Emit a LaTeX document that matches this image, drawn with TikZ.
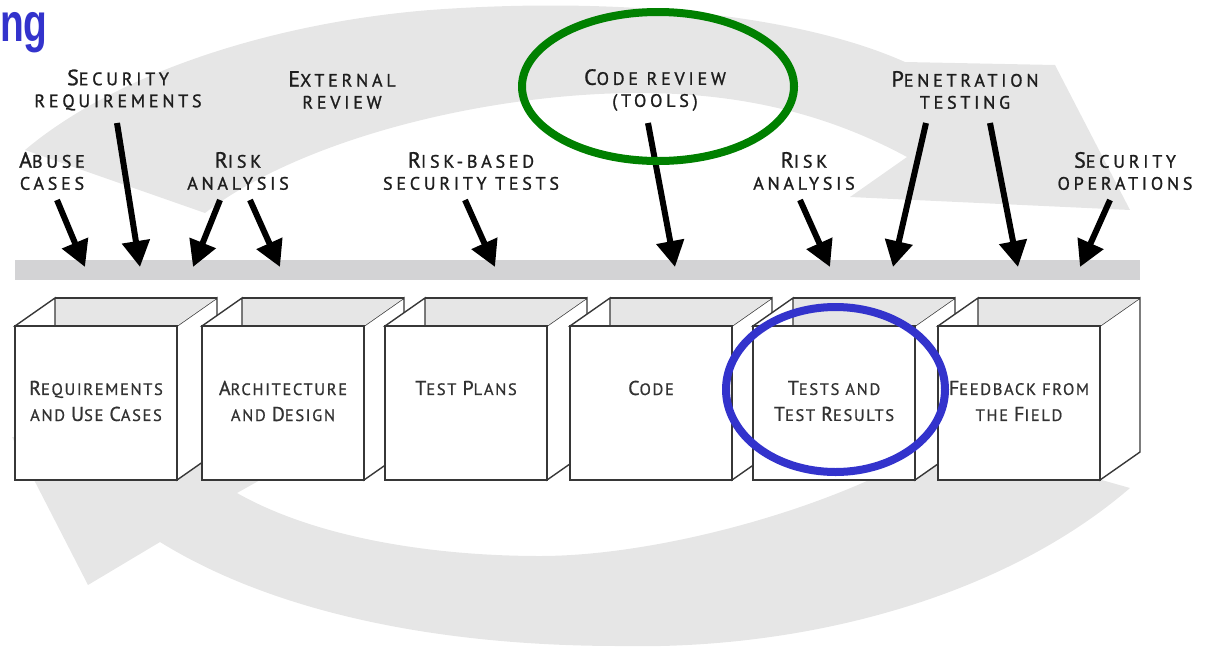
\documentclass[tikz,border=0pt]{standalone}
\usepackage{fontspec}
\setmainfont{PT Sans}
\newfontfamily\titlefont{Liberation Sans}
\newfontfamily\lblfont[LetterSpace=21,FakeBold=1.2]{PT Sans}
\newfontfamily\boxfont[LetterSpace=10,FakeBold=0.8]{PT Sans}
\usetikzlibrary{arrows.meta,calc,shapes.geometric}
\definecolor{bandgray}{RGB}{230,230,230}
\definecolor{bargray}{RGB}{211,211,213}
\definecolor{boxline}{RGB}{55,55,55}
\definecolor{txtgray}{RGB}{30,30,30}
\definecolor{boxtxt}{RGB}{50,50,50}
\definecolor{hiblue}{RGB}{51,51,204}
\definecolor{higreen}{RGB}{0,128,0}
\newcommand\bigc[1]{{\fontsize{22}{22}\selectfont #1}}
\newcommand\bigb[1]{{\fontsize{20}{22}\selectfont #1}}
\tikzset{
  lbl/.style={align=center, inner sep=0pt, text=txtgray,
    font=\lblfont\fontsize{18}{22}\selectfont},
  boxlbl/.style={align=center, inner sep=0pt, text=boxtxt,
    font=\boxfont\fontsize{16.5}{26}\selectfont},
  boxedge/.style={draw=boxline, line width=1.4pt, line join=miter},
  frontface/.style={boxedge, fill=white, rectangle, inner sep=0pt, outer sep=0pt,
    minimum width=162pt, minimum height=154pt},
  blkarrow/.style={draw=black, line width=6pt, -{Triangle[width=27pt,length=26pt]}},
  hlring/.style={ellipse, draw=#1, line width=8pt, inner sep=0pt, fill=none}
}
% #1 name, #2 left x of front face, #3 label y, #4 text
\newcommand\cubebox[4]{%
  \filldraw[boxedge, fill=white] ({#2+162},326) -- ({#2+202},298) -- ({#2+202},452) -- ({#2+162},480) -- cycle;
  \fill[bandgray] ({#2+40},298) -- ({#2+202},298) -- ({#2+162},326) -- ({#2+40},326) -- cycle;
  \filldraw[boxedge, fill=white] (#2,326) -- ({#2+40},298) -- ({#2+40},326) -- cycle;
  \draw[boxedge] ({#2+40},298) -- ({#2+202},298);
  \node[frontface] (#1) at ({#2+81},403) {};
  \node[boxlbl] (#1t) at ({#2+81},#3) {#4};
}
\begin{document}
\begin{tikzpicture}[x=1pt,y=-1pt]
\useasboundingbox (0,0) rectangle (1210,646);
% background cycle arrows
\fill[bandgray] (25,150) .. controls (120,70) and (280,22) .. (430,10)
  .. controls (620,-4) and (800,15) .. (905,62) -- (1055,65) -- (1130,210) -- (850,197) -- (907,157)
  .. controls (820,110) and (730,92) .. (630,93)
  .. controls (480,95) and (300,140) .. (205,213) -- cycle;
\fill[bandgray] (1130,488) .. controls (1000,600) and (800,650) .. (620,646)
  .. controls (430,646) and (270,610) .. (160,542) -- (88,585) -- (12,437) -- (310,452) -- (237,493)
  .. controls (320,540) and (440,556) .. (540,556)
  .. controls (640,556) and (780,522) .. (880,475) -- (960,440) -- cycle;
% title fragment
\node[anchor=base west, inner sep=0pt, text=hiblue, font=\titlefont\bfseries\fontsize{54}{54}\selectfont] (title) at (0,41) {\scalebox{0.72}[1]{ng}};
% bar
\node[fill=bargray, inner sep=0pt, minimum width=1125pt, minimum height=20pt] (bar) at (577.5,270) {};
% labels
\node[lbl] (lAbuse) at (52,171) {\bigc{A}BUSE\\CASES};
\node[lbl] (lSecReq) at (118,90) {\bigc{S}ECURITY\\REQUIREMENTS};
\node[lbl] (lExt) at (342,90) {\bigc{E}XTERNAL\\REVIEW};
\node[lbl] (lRisk1) at (238,171) {\bigc{R}ISK\\ANALYSIS};
\node[lbl] (lRBST) at (471,171) {\bigc{R}ISK-BASED\\SECURITY TESTS};
\node[lbl] (lCode) at (655,90) {\bigc{C}ODE REVIEW\\(TOOLS)};
\node[lbl] (lRisk2) at (804,171) {\bigc{R}ISK\\ANALYSIS};
\node[lbl] (lPen) at (965,90) {\bigc{P}ENETRATION\\TESTING};
\node[lbl] (lSecOps) at (1125,171) {\bigc{S}ECURITY\\OPERATIONS};
% arrow end points
\coordinate (t1) at (57,200);   \coordinate (h1) at (85,267);
\coordinate (t2) at (117,123);  \coordinate (h2) at (140,267);
\coordinate (t3) at (220,200);  \coordinate (h3) at (193,267);
\coordinate (t4) at (250,200);  \coordinate (h4) at (280,267);
\coordinate (t5) at (465,200);  \coordinate (h5) at (495,267);
\coordinate (t6) at (648,123);  \coordinate (h6) at (675,267);
\coordinate (t7) at (800,200);  \coordinate (h7) at (830,267);
\coordinate (t8) at (926,123);  \coordinate (h8) at (893,267);
\coordinate (t9) at (990,123);  \coordinate (h9) at (1018,267);
\coordinate (t10) at (1110,200); \coordinate (h10) at (1080,267);
\foreach \i in {1,...,10} { \draw[blkarrow] (t\i) -- (h\i); }
% boxes
\cubebox{b1}{15}{401}{\bigb{R}EQUIREMENTS\\AND \bigb{U}SE \bigb{C}ASES}
\cubebox{b2}{202}{401}{\bigb{A}RCHITECTURE\\AND \bigb{D}ESIGN}
\cubebox{b3}{385}{388}{\bigb{T}EST \bigb{P}LANS}
\cubebox{b4}{570}{388}{\bigb{C}ODE}
\cubebox{b5}{753}{401}{\bigb{T}ESTS AND\\\bigb{T}EST \bigb{R}ESULTS}
\cubebox{b6}{938}{401}{\bigb{F}EEDBACK FROM\\THE \bigb{F}IELD}
% highlight rings
\node[hlring=hiblue, minimum width=219pt, minimum height=165pt] (ringB) at (835.5,389.5) {};
\node[hlring=higreen, minimum width=272pt, minimum height=149pt] (ringG) at (658,86.5) {};
\end{tikzpicture}
\end{document}
